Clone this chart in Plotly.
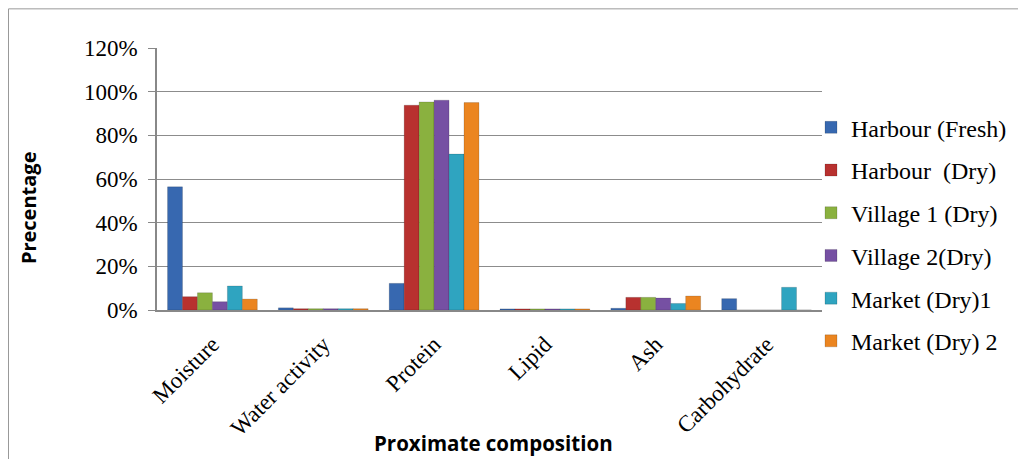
import plotly.graph_objects as go

categories = ["Moisture", "Water activity", "Protein", "Lipid", "Ash", "Carbohydrate"]
series_names = ["Harbour (Fresh)", "Harbour  (Dry)", "Village 1 (Dry)", "Village 2(Dry)", "Market (Dry)1", "Market (Dry) 2"]
harbour_fresh = [56.4, 1.0, 12.2, 0.5, 0.8, 5.2]
harbour_dry = [6.1, 0.6, 93.8, 0.5, 5.8, 0]
village1_dry = [7.9, 0.6, 95.3, 0.5, 5.8, 0]
village2_dry = [3.8, 0.6, 96.1, 0.5, 5.5, 0]
market1_dry = [11.0, 0.6, 71.4, 0.5, 3.0, 10.4]
market2_dry = [5.0, 0.6, 95.0, 0.5, 6.4, 0]
colors = ["#3768B0", "#B8312F", "#8AB13F", "#7650A3", "#2FA4C0", "#EB8520"]
y_ticks = [0, 20, 40, 60, 80, 100, 120]

values = [harbour_fresh, harbour_dry, village1_dry, village2_dry, market1_dry, market2_dry]

fig = go.Figure()
for i, (name, vals, col) in enumerate(zip(series_names, values, colors)):
    fig.add_trace(go.Bar(
        x=categories, y=vals, name=name, legendgroup=f"g{i}",
        marker=dict(color=col, line=dict(width=0.5, color="rgba(0,0,0,0.3)")),
    ))

# page body has an 8px margin; figure coords = page coords - 8
W, H = 1018, 451
l, r, t, b = 149, 204, 39.7, 149
pw, ph = W - l - r, H - t - b

def px(xf):
    return (xf - l) / pw

def py(yf):
    return (H - b - yf) / ph

fig.update_layout(
    width=W, height=H,
    margin=dict(l=l, r=r, t=t, b=b, autoexpand=False),
    paper_bgcolor="white", plot_bgcolor="white",
    barmode="group", bargap=0.19, bargroupgap=0,
    font=dict(family="Liberation Serif", size=23, color="black"),
    showlegend=True,
    legend=dict(x=px(803), y=py(97), xanchor="left", yanchor="top",
                font=dict(family="Liberation Serif", size=24, color="black"),
                tracegroupgap=8.5, itemwidth=30, traceorder="grouped",
                maxheight=440,
                bgcolor="rgba(0,0,0,0)"),
    xaxis=dict(tickangle=-45, showline=True, linecolor="#888888", linewidth=1.5,
               ticks="", ticklabelstandoff=10,
               tickfont=dict(family="Liberation Serif", size=23),
               automargin=False),
    yaxis=dict(range=[0, 120], tickvals=y_ticks, ticktext=[f"{v}%" for v in y_ticks],
               showgrid=True, gridcolor="#8c8c8c", gridwidth=1,
               showline=True, linecolor="#888888", linewidth=1.5,
               ticks="outside", ticklen=7, tickcolor="#888888",
               ticklabelstandoff=6,
               tickfont=dict(family="Liberation Serif", size=23),
               automargin=False),
)
fig.add_annotation(text="<b>Proximate composition</b>", xref="paper", yref="paper",
                   x=px(485), y=py(435), xanchor="center", yanchor="middle", showarrow=False,
                   font=dict(family="Open Sans", size=20.5, color="black"))
fig.add_annotation(text="<b>Precentage</b>", xref="paper", yref="paper", textangle=-90,
                   x=px(20), y=py(200), xanchor="center", yanchor="middle", showarrow=False,
                   font=dict(family="Open Sans", size=20, color="black"))
fig.add_shape(type="rect", xref="paper", yref="paper",
              x0=px(0.5), x1=px(1030), y0=py(470), y1=py(0.5),
              line=dict(color="#999999", width=1), fillcolor="rgba(0,0,0,0)", layer="below")
fig.write_html("out.html")
